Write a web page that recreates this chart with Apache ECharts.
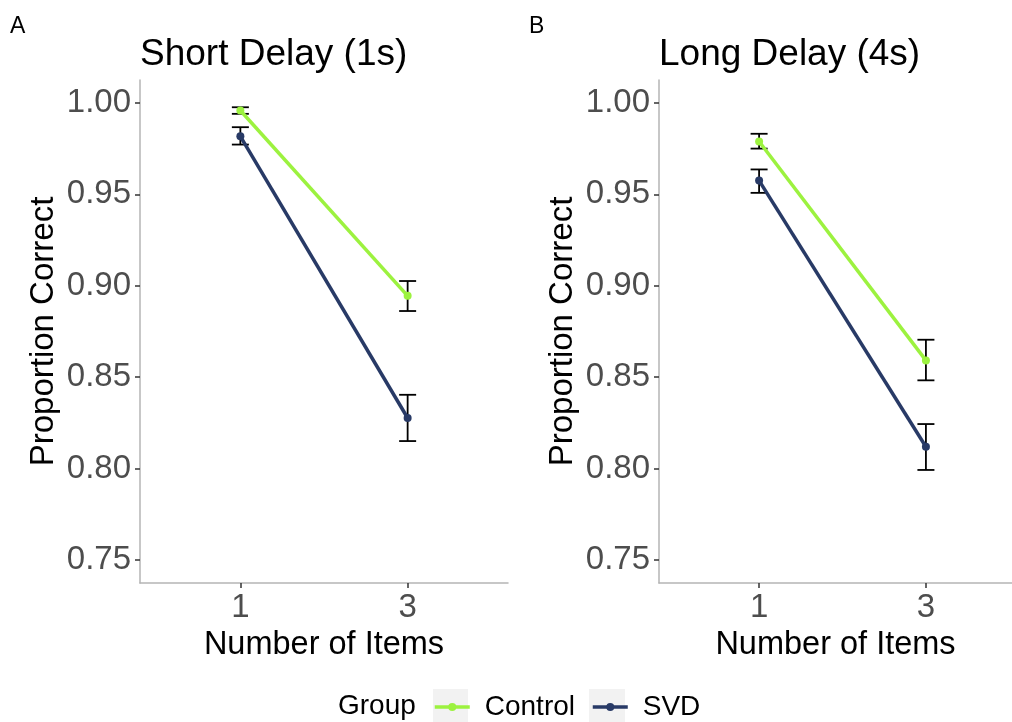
<!DOCTYPE html>
<html>
<head>
<meta charset="utf-8">
<script src="https://cdn.jsdelivr.net/npm/echarts@6/dist/echarts.min.js"></script>
<style>
html,body{margin:0;padding:0;background:#fff;}
#chart{width:1012px;height:722px;}
</style>
</head>
<body>
<div id="chart"></div>
<script>
// ---- data ----
const categories = ['1', '3'];
const panelTitles = ['Short Delay (1s)', 'Long Delay (4s)'];
const panelTags = ['A', 'B'];
const groups = ['Control', 'SVD'];
const yTicks = [0.75, 0.80, 0.85, 0.90, 0.95, 1.00];

const shortControlMean = [0.9958, 0.8945];
const shortControlLow  = [0.9940, 0.8862];
const shortControlHigh = [0.9976, 0.9026];
const shortSvdMean = [0.9817, 0.8277];
const shortSvdLow  = [0.9772, 0.8151];
const shortSvdHigh = [0.9867, 0.8404];

const longControlMean = [0.9789, 0.8592];
const longControlLow  = [0.9750, 0.8483];
const longControlHigh = [0.9831, 0.8705];
const longSvdMean = [0.9575, 0.8120];
const longSvdLow  = [0.9508, 0.7993];
const longSvdHigh = [0.9636, 0.8244];

// ---- styling ----
const FONT = 'Liberation Sans, Arial, Helvetica, sans-serif';
const groupColors = { Control: '#9cf23f', SVD: '#283a66' };

const panels = [
  { control: [shortControlMean, shortControlLow, shortControlHigh],
    svd: [shortSvdMean, shortSvdLow, shortSvdHigh] },
  { control: [longControlMean, longControlLow, longControlHigh],
    svd: [longSvdMean, longSvdLow, longSvdHigh] }
];

// the right panel is cut by the picture's edge, so its x range is shorter
const grids = [
  { left: 140, top: 80, width: 368, height: 503 },
  { left: 659, top: 80, width: 353, height: 503 }
];
const xMax = [2.6, 2.516];

function xAxisFor(i) {
  return {
    gridIndex: i, type: 'value', min: 0.4, max: xMax[i],
    name: 'Number of Items', nameLocation: 'middle', nameGap: 46,
    nameTextStyle: { fontFamily: FONT, fontSize: 32.5, color: '#000' },
    axisLine: { show: true, lineStyle: { color: '#b5b5b5', width: 1.5 } },
    axisTick: { show: true, customValues: [1, 2], length: 5, lineStyle: { color: '#333', width: 1.5 } },
    axisLabel: { customValues: [1, 2], margin: 8, fontFamily: FONT, fontSize: 33, color: '#4d4d4d',
      formatter: v => categories[Math.round(v) - 1] },
    splitLine: { show: false }
  };
}
function yAxisFor(i) {
  return {
    gridIndex: i, type: 'value', min: 0.7375, max: 1.0125,
    name: 'Proportion Correct', nameLocation: 'middle', nameGap: 80, nameRotate: 90,
    nameTextStyle: { fontFamily: FONT, fontSize: 33, color: '#000' },
    axisLine: { show: true, lineStyle: { color: '#b5b5b5', width: 1.5 } },
    axisTick: { show: true, customValues: yTicks, length: 5, lineStyle: { color: '#333', width: 1.5 } },
    axisLabel: { customValues: yTicks, margin: 9, fontFamily: FONT, fontSize: 33, color: '#4d4d4d',
      formatter: v => v.toFixed(2) },
    splitLine: { show: false }
  };
}

function errorSeries(i, name, arr) {
  const data = categories.map((c, k) => [k + 1, arr[1][k], arr[2][k]]);
  return {
    type: 'custom', name: name + ' err', xAxisIndex: i, yAxisIndex: i, z: 3,
    silent: true,
    renderItem: function (params, api) {
      const x = api.value(0);
      const lo = api.coord([x, api.value(1)]);
      const hi = api.coord([x, api.value(2)]);
      const hw = 8.5;
      const st = { stroke: '#000', lineWidth: 1.8 };
      return { type: 'group', children: [
        { type: 'line', shape: { x1: lo[0], y1: lo[1], x2: hi[0], y2: hi[1] }, style: st },
        { type: 'line', shape: { x1: lo[0] - hw, y1: lo[1], x2: lo[0] + hw, y2: lo[1] }, style: st },
        { type: 'line', shape: { x1: hi[0] - hw, y1: hi[1], x2: hi[0] + hw, y2: hi[1] }, style: st }
      ]};
    },
    data: data
  };
}
function lineSeries(i, name, arr) {
  return {
    type: 'line', name: name, xAxisIndex: i, yAxisIndex: i, z: 4,
    data: categories.map((c, k) => [k + 1, arr[0][k]]),
    symbol: 'circle', symbolSize: 8,
    lineStyle: { color: groupColors[name], width: 3.5 },
    itemStyle: { color: groupColors[name] },
    emphasis: { disabled: true }
  };
}

const series = [];
panels.forEach((p, i) => {
  series.push(errorSeries(i, 'Control', p.control));
  series.push(errorSeries(i, 'SVD', p.svd));
  series.push(lineSeries(i, 'Control', p.control));
  series.push(lineSeries(i, 'SVD', p.svd));
});

const tStyle = (size) => ({ fontFamily: FONT, fontSize: size, fontWeight: 'normal', color: '#000' });

const option = {
  backgroundColor: '#ffffff',
  animation: false,
  title: [
    { text: panelTags[0], left: 10, top: 15, padding: 0, textStyle: tStyle(23) },
    { text: panelTags[1], left: 529, top: 15, padding: 0, textStyle: tStyle(23) },
    { text: panelTitles[0], left: 140, top: 36, padding: 0, textStyle: tStyle(37) },
    { text: panelTitles[1], left: 659, top: 36, padding: 0, textStyle: tStyle(37) }
  ],
  grid: grids,
  xAxis: [xAxisFor(0), xAxisFor(1)],
  yAxis: [yAxisFor(0), yAxisFor(1)],
  legend: {
    data: groups, left: 433, top: 693, z: 10, padding: 0,
    itemWidth: 35, itemHeight: 10, itemGap: 16, selectedMode: false,
    lineStyle: { width: 3.5 },
    textStyle: { fontFamily: FONT, fontSize: 28, color: '#000', padding: [0, 0, 0, 10] }
  },
  graphic: [
    { type: 'rect', z: 0, shape: { x: 433, y: 689, width: 35, height: 33 }, style: { fill: '#f2f2f2' } },
    { type: 'rect', z: 0, shape: { x: 589, y: 689, width: 36, height: 33 }, style: { fill: '#f2f2f2' } },
    { type: 'text', z: 1, left: 338, top: 692, style: { text: 'Group', fontFamily: FONT, fontSize: 28, fill: '#000' } }
  ],
  series: series
};

const chart = echarts.init(document.getElementById('chart'), null, { renderer: 'canvas' });
chart.setOption(option);
</script>
</body>
</html>
